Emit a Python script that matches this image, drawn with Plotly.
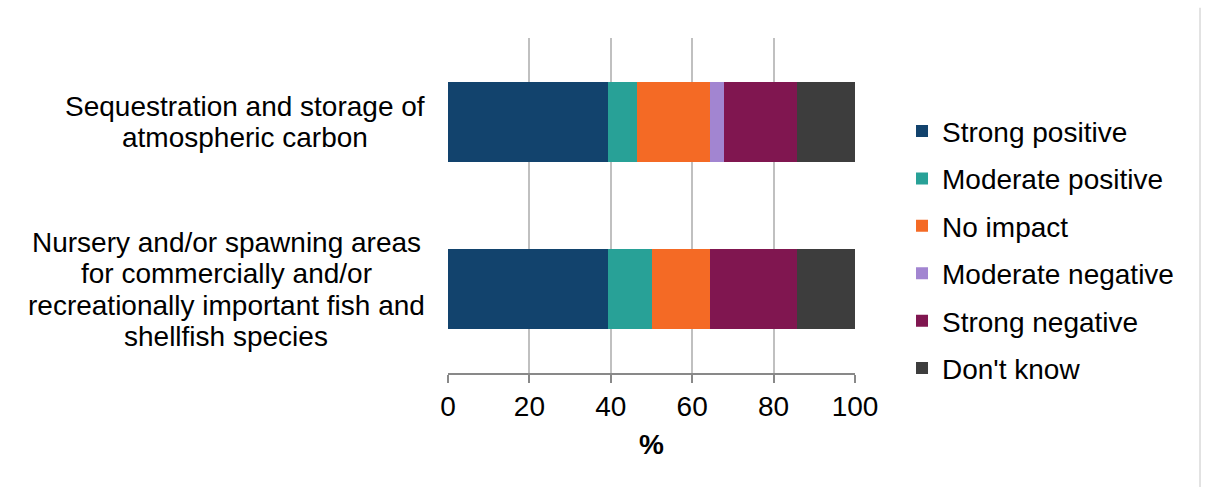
import plotly.graph_objects as go

categories = [
    "Sequestration and storage of atmospheric carbon",
    "Nursery and/or spawning areas for commercially and/or recreationally important fish and shellfish species",
]
category_lines = [
    ["Sequestration and storage of", "atmospheric carbon"],
    ["Nursery and/or spawning areas", "for commercially and/or",
     "recreationally important fish and", "shellfish species"],
]
series_names = ["Strong positive", "Moderate positive", "No impact",
                "Moderate negative", "Strong negative", "Don't know"]
strong_positive = [39.3, 39.3]
moderate_positive = [7.1, 10.7]
no_impact = [17.9, 14.3]
moderate_negative = [3.6, 0.0]
strong_negative = [17.9, 21.4]
dont_know = [14.2, 14.3]
series_values = [strong_positive, moderate_positive, no_impact,
                 moderate_negative, strong_negative, dont_know]
colors = ["#12436D", "#28A197", "#F46A25", "#A285D1", "#801650", "#3D3D3D"]
x_ticks = [0, 20, 40, 60, 80, 100]

FONT = "Liberation Sans, Arial, sans-serif"
FS = 28

fig = go.Figure()
for name, vals, col in zip(series_names, series_values, colors):
    fig.add_trace(go.Bar(
        y=categories, x=vals, name=name, orientation="h",
        marker=dict(color=col, line=dict(width=0)),
        legendgroup=name,
    ))

# category labels (centered multi-line)
label_centers = [-0.499, -0.545]
line_gap = 31.5
for cat, lines, cx in zip(categories, category_lines, label_centers):
    n = len(lines)
    for i, ln in enumerate(lines):
        fig.add_annotation(
            x=cx, xref="paper", y=cat, yref="y",
            text=ln, showarrow=False, xanchor="center", yanchor="middle",
            yshift=((n - 1) / 2 - i) * line_gap,
            font=dict(family=FONT, size=FS, color="#000000"),
        )

# right border line
fig.add_shape(type="line", xref="paper", yref="paper",
              x0=1.8477, x1=1.8477, y0=-0.34, y1=1.09,
              line=dict(color="#D9D9D9", width=1.5))

fig.update_layout(
    width=1205, height=488,
    barmode="stack", bargap=0.52,
    paper_bgcolor="white", plot_bgcolor="white",
    margin=dict(l=448, r=350, t=38, b=115),
    font=dict(family=FONT, size=FS, color="#000000"),
    showlegend=True,
    legend=dict(
        x=1.1155, xanchor="left", y=0.796, yanchor="top",
        traceorder="grouped", tracegroupgap=8,
        font=dict(family=FONT, size=FS, color="#000000"),
        bgcolor="rgba(0,0,0,0)",
    ),
    xaxis=dict(
        range=[0, 100], tickvals=x_ticks, ticktext=[str(t) for t in x_ticks],
        showgrid=True, gridcolor="#C0C0C0", gridwidth=1.5,
        showline=True, linecolor="#898989", linewidth=1.5,
        ticks="outside", ticklen=8, tickcolor="#898989", tickwidth=1.5,
        tickfont=dict(family=FONT, size=FS, color="#000000"),
        title=dict(text="<b>%</b>", font=dict(family=FONT, size=FS, color="#000000"), standoff=13),
        zeroline=False, fixedrange=True,
    ),
    yaxis=dict(
        categoryorder="array", categoryarray=categories[::-1],
        showticklabels=False, showgrid=False, showline=False, ticks="",
        fixedrange=True,
    ),
)

fig.write_html("out.html", config={"displayModeBar": False},
               post_script="document.body.style.margin='0';")
